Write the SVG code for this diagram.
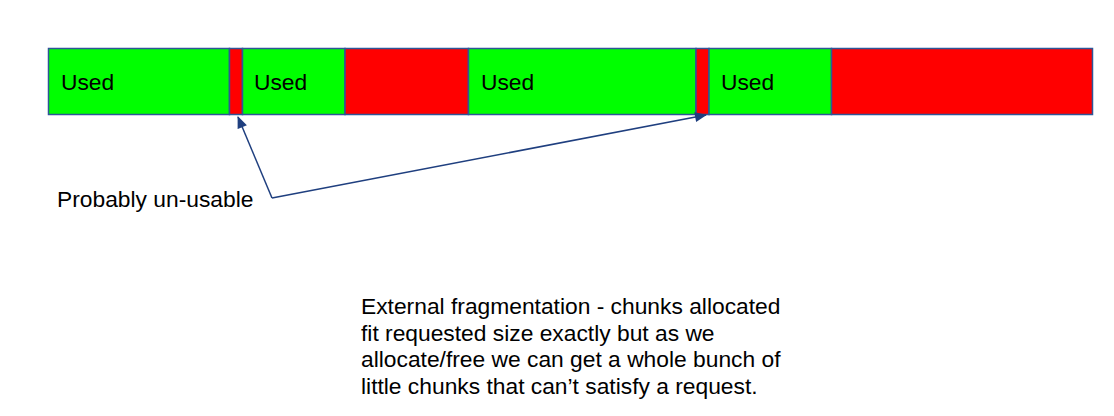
<svg xmlns="http://www.w3.org/2000/svg" width="1114" height="416" viewBox="0 0 1114 416">
  <defs>
    <style>
      .used { fill: #00ff00; stroke: #2f5597; stroke-width: 1.5; }
      .free { fill: #ff0000; stroke: #2f5597; stroke-width: 1.5; }
      .t { font-family: "Liberation Sans", Arial, sans-serif; font-size: 22.8px; fill: #000; }
      .conn { fill: none; stroke: #1f3f7f; stroke-width: 1.5; }
    </style>
    <marker id="ah" viewBox="0 0 12 10" refX="11" refY="5" markerWidth="13" markerHeight="10" markerUnits="userSpaceOnUse" orient="auto">
      <path d="M0,0 L12,5 L0,10 z" fill="#1f3f7f"/>
    </marker>
  </defs>
  <rect width="1114" height="416" fill="#ffffff"/>
  <g id="seg1"><rect class="used" x="48.5" y="48.5" width="181" height="66"/><text class="t" x="61" y="90">Used</text></g>
  <g id="seg2"><rect class="free" x="229.5" y="48.5" width="13" height="66"/></g>
  <g id="seg3"><rect class="used" x="242.5" y="48.5" width="102.5" height="66"/><text class="t" x="254" y="90">Used</text></g>
  <g id="seg4"><rect class="free" x="345" y="48.5" width="123.5" height="66"/></g>
  <g id="seg5"><rect class="used" x="468.5" y="48.5" width="227.5" height="66"/><text class="t" x="481" y="90">Used</text></g>
  <g id="seg6"><rect class="free" x="696" y="48.5" width="13" height="66"/></g>
  <g id="seg7"><rect class="used" x="709" y="48.5" width="122.5" height="66"/><text class="t" x="721" y="90">Used</text></g>
  <g id="seg8"><rect class="free" x="831.5" y="48.5" width="261" height="66"/></g>
  <g id="connectors">
    <path class="conn" d="M272,198 L238,117" marker-end="url(#ah)"/>
    <path class="conn" d="M272,198 L706,115" marker-end="url(#ah)"/>
  </g>
  <g id="label-unusable"><text class="t" x="57" y="207">Probably un-usable</text></g>
  <g id="note">
    <text class="t" x="361" y="314">External fragmentation - chunks allocated</text>
    <text class="t" x="361" y="340.5">fit requested size exactly but as we</text>
    <text class="t" x="361" y="367">allocate/free we can get a whole bunch of</text>
    <text class="t" x="361" y="393.5">little chunks that can’t satisfy a request.</text>
  </g>
</svg>
